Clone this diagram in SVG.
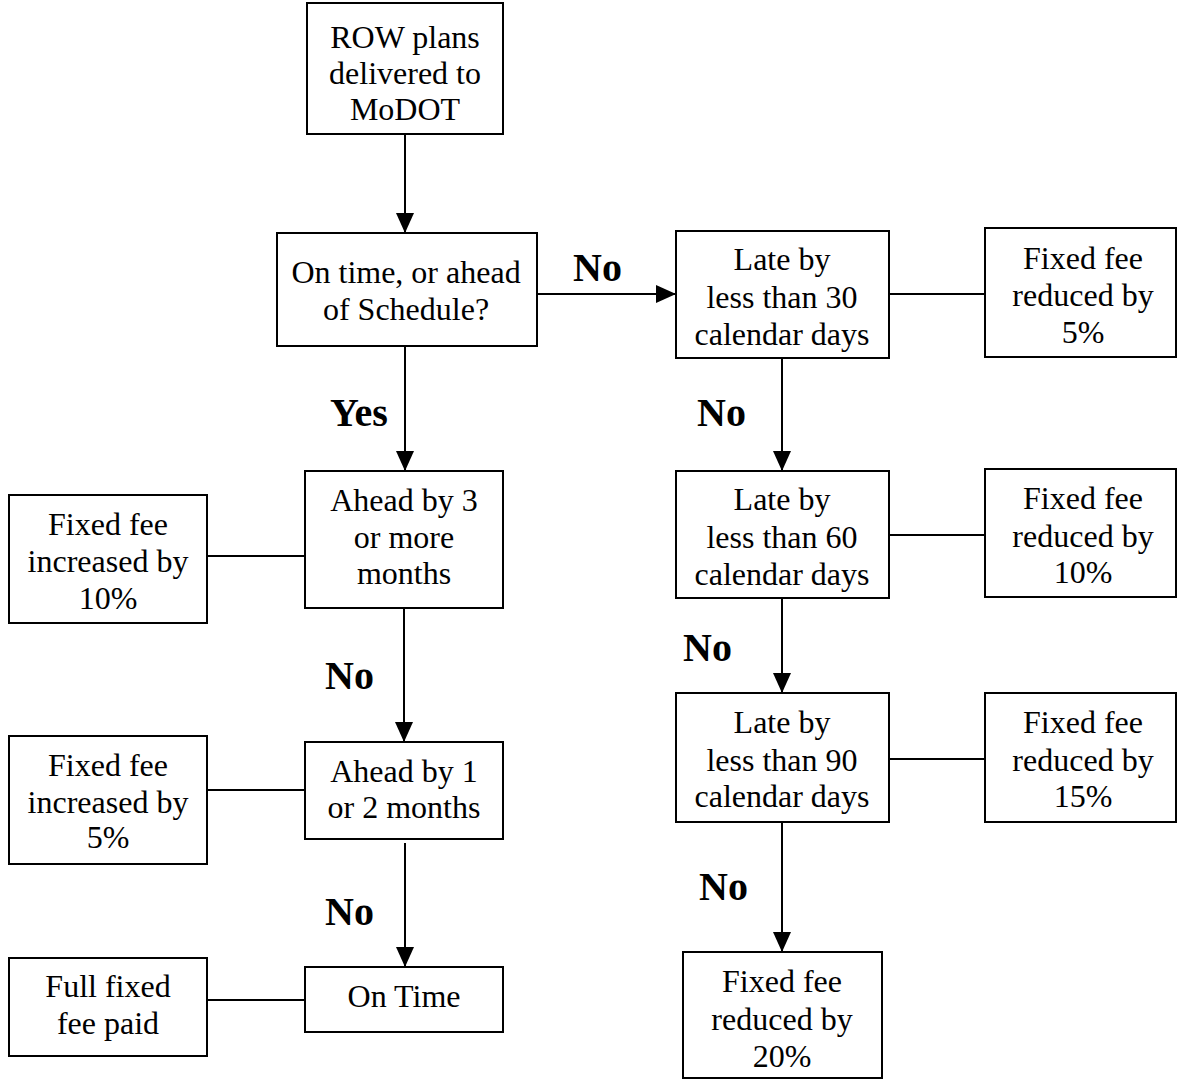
<svg xmlns="http://www.w3.org/2000/svg" width="1177" height="1080" viewBox="0 0 1177 1080" font-family="'Liberation Serif', 'DejaVu Serif', serif">
<style>
.box{fill:#fff;stroke:#000;stroke-width:2}
.t{font-family:'Liberation Serif','DejaVu Serif',serif;font-size:32px;fill:#000;text-anchor:middle}
.lbl{font-family:'Liberation Serif','DejaVu Serif',serif;font-size:40px;font-weight:bold;fill:#000}
.c{stroke:#000;stroke-width:2;fill:none}
</style>
<defs>
<marker id="ah" markerUnits="userSpaceOnUse" markerWidth="20" markerHeight="20" viewBox="0 0 20 20" refX="20" refY="10" orient="auto">
<path d="M0,1 L20,10 L0,19 Z" fill="#000"/>
</marker>
</defs>
<rect width="1177" height="1080" fill="#fff"/>
<g id="connectors">
<line class="c" x1="405" y1="134" x2="405" y2="233" marker-end="url(#ah)"/>
<line class="c" x1="537" y1="294" x2="676" y2="294" marker-end="url(#ah)"/>
<line class="c" x1="889" y1="294" x2="985" y2="294"/>
<line class="c" x1="405" y1="346" x2="405" y2="471" marker-end="url(#ah)"/>
<line class="c" x1="207" y1="556" x2="305" y2="556"/>
<line class="c" x1="404" y1="608" x2="404" y2="742" marker-end="url(#ah)"/>
<line class="c" x1="207" y1="790" x2="305" y2="790"/>
<line class="c" x1="405" y1="843" x2="405" y2="967" marker-end="url(#ah)"/>
<line class="c" x1="207" y1="1000" x2="305" y2="1000"/>
<line class="c" x1="782" y1="358" x2="782" y2="471" marker-end="url(#ah)"/>
<line class="c" x1="889" y1="535" x2="985" y2="535"/>
<line class="c" x1="782" y1="598" x2="782" y2="693" marker-end="url(#ah)"/>
<line class="c" x1="889" y1="759" x2="985" y2="759"/>
<line class="c" x1="782" y1="822" x2="782" y2="952" marker-end="url(#ah)"/>
<text class="lbl" x="573" y="281">No</text>
<text class="lbl" x="330" y="426">Yes</text>
<text class="lbl" x="325" y="689">No</text>
<text class="lbl" x="325" y="925">No</text>
<text class="lbl" x="697" y="426">No</text>
<text class="lbl" x="683" y="661">No</text>
<text class="lbl" x="699" y="900">No</text>
</g>
<g id="n-row">
<rect class="box" x="307" y="3" width="196" height="131"/>
<text class="t" x="405" y="48">ROW plans</text>
<text class="t" x="405" y="84">delivered to</text>
<text class="t" x="405" y="120">MoDOT</text>
</g>
<g id="n-ontime-q">
<rect class="box" x="277" y="233" width="260" height="113"/>
<text class="t" x="406" y="283">On time, or ahead</text>
<text class="t" x="406" y="320">of Schedule?</text>
</g>
<g id="n-late30">
<rect class="box" x="676" y="231" width="213" height="127"/>
<text class="t" x="782" y="270">Late by</text>
<text class="t" x="782" y="308">less than 30</text>
<text class="t" x="782" y="345">calendar days</text>
</g>
<g id="n-red5">
<rect class="box" x="985" y="228" width="191" height="129"/>
<text class="t" x="1083" y="269">Fixed fee</text>
<text class="t" x="1083" y="306">reduced by</text>
<text class="t" x="1083" y="343">5%</text>
</g>
<g id="n-late60">
<rect class="box" x="676" y="471" width="213" height="127"/>
<text class="t" x="782" y="510">Late by</text>
<text class="t" x="782" y="548">less than 60</text>
<text class="t" x="782" y="585">calendar days</text>
</g>
<g id="n-red10">
<rect class="box" x="985" y="469" width="191" height="128"/>
<text class="t" x="1083" y="509">Fixed fee</text>
<text class="t" x="1083" y="547">reduced by</text>
<text class="t" x="1083" y="583">10%</text>
</g>
<g id="n-late90">
<rect class="box" x="676" y="693" width="213" height="129"/>
<text class="t" x="782" y="733">Late by</text>
<text class="t" x="782" y="771">less than 90</text>
<text class="t" x="782" y="807">calendar days</text>
</g>
<g id="n-red15">
<rect class="box" x="985" y="693" width="191" height="129"/>
<text class="t" x="1083" y="733">Fixed fee</text>
<text class="t" x="1083" y="771">reduced by</text>
<text class="t" x="1083" y="807">15%</text>
</g>
<g id="n-red20">
<rect class="box" x="683" y="952" width="199" height="126"/>
<text class="t" x="782" y="992">Fixed fee</text>
<text class="t" x="782" y="1030">reduced by</text>
<text class="t" x="782" y="1067">20%</text>
</g>
<g id="n-ahead3">
<rect class="box" x="305" y="471" width="198" height="137"/>
<text class="t" x="404" y="511">Ahead by 3</text>
<text class="t" x="404" y="548">or more</text>
<text class="t" x="404" y="584">months</text>
</g>
<g id="n-inc10">
<rect class="box" x="9" y="495" width="198" height="128"/>
<text class="t" x="108" y="535">Fixed fee</text>
<text class="t" x="108" y="572">increased by</text>
<text class="t" x="108" y="609">10%</text>
</g>
<g id="n-ahead1">
<rect class="box" x="305" y="742" width="198" height="97"/>
<text class="t" x="404" y="782">Ahead by 1</text>
<text class="t" x="404" y="818">or 2 months</text>
</g>
<g id="n-inc5">
<rect class="box" x="9" y="736" width="198" height="128"/>
<text class="t" x="108" y="776">Fixed fee</text>
<text class="t" x="108" y="813">increased by</text>
<text class="t" x="108" y="848">5%</text>
</g>
<g id="n-ontime">
<rect class="box" x="305" y="967" width="198" height="65"/>
<text class="t" x="404" y="1007">On Time</text>
</g>
<g id="n-full">
<rect class="box" x="9" y="958" width="198" height="98"/>
<text class="t" x="108" y="997">Full fixed</text>
<text class="t" x="108" y="1034">fee paid</text>
</g>
</svg>
